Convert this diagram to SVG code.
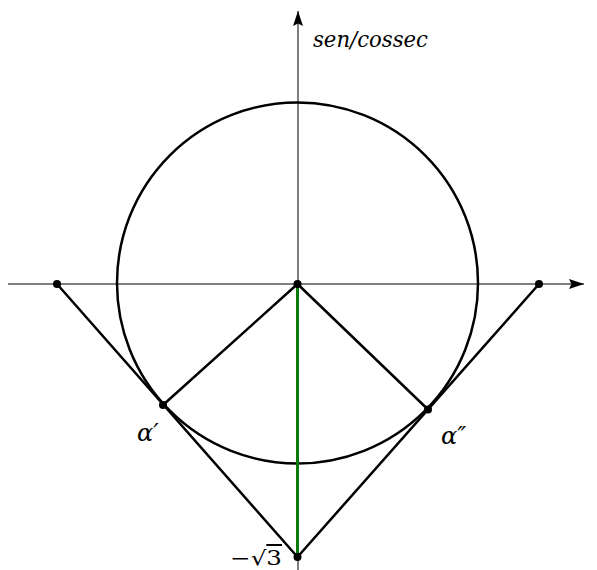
<svg xmlns="http://www.w3.org/2000/svg" width="597" height="570" viewBox="0 0 597 570">
<defs>
<marker id="arr" viewBox="0 0 15 10" refX="15" refY="5" markerWidth="15" markerHeight="10" markerUnits="userSpaceOnUse" orient="auto">
<path d="M0,0 L15,5 L0,10 L2.5,5 Z" fill="#000"/>
</marker>
</defs>
<style>
.axis{stroke:#555;stroke-width:1.5;fill:none}
.thick{stroke:#000;stroke-width:2.5;fill:none;stroke-linecap:round}
.green{stroke:#0b7a0b;stroke-width:3;fill:none}
.dot{fill:#000}
.lbl{font-family:'DejaVu Serif','Liberation Serif',serif;font-style:italic;font-size:22px;fill:#000}
</style>
<rect width="597" height="570" fill="#fff"/>
<g id="axes">
<line class="axis" x1="8" y1="284" x2="584" y2="284" marker-end="url(#arr)"/>
<line class="axis" x1="298" y1="570" x2="298" y2="11" marker-end="url(#arr)"/>
</g>
<g id="circle">
<circle class="thick" cx="297.5" cy="283" r="180.5"/>
</g>
<g id="connectors">
<line class="thick" x1="57" y1="284" x2="297.5" y2="557"/>
<line class="thick" x1="539" y1="284" x2="297.5" y2="557"/>
<line class="thick" x1="297.5" y1="284" x2="163" y2="405"/>
<line class="thick" x1="297.5" y1="284" x2="428" y2="409.5"/>
<line class="green" x1="297.5" y1="284" x2="297.5" y2="557"/>
</g>
<g id="points">
<circle class="dot" cx="297.5" cy="284" r="4"/>
<circle class="dot" cx="57" cy="284" r="4"/>
<circle class="dot" cx="539" cy="284" r="4"/>
<circle class="dot" cx="163" cy="405" r="4"/>
<circle class="dot" cx="428" cy="409.5" r="4"/>
<circle class="dot" cx="297.5" cy="557" r="4"/>
</g>
<g id="labels">
<text class="lbl" x="313" y="47" textLength="115" lengthAdjust="spacingAndGlyphs">sen/cossec</text>
<text class="lbl" x="137" y="441" style="font-size:24px">α′</text>
<text class="lbl" x="441" y="444" style="font-size:24px">α″</text>
<text class="lbl" x="230" y="565" style="font-style:normal;font-size:20px" textLength="52" lengthAdjust="spacingAndGlyphs">−√<tspan style="text-decoration:overline">3</tspan></text>
</g>
</svg>
